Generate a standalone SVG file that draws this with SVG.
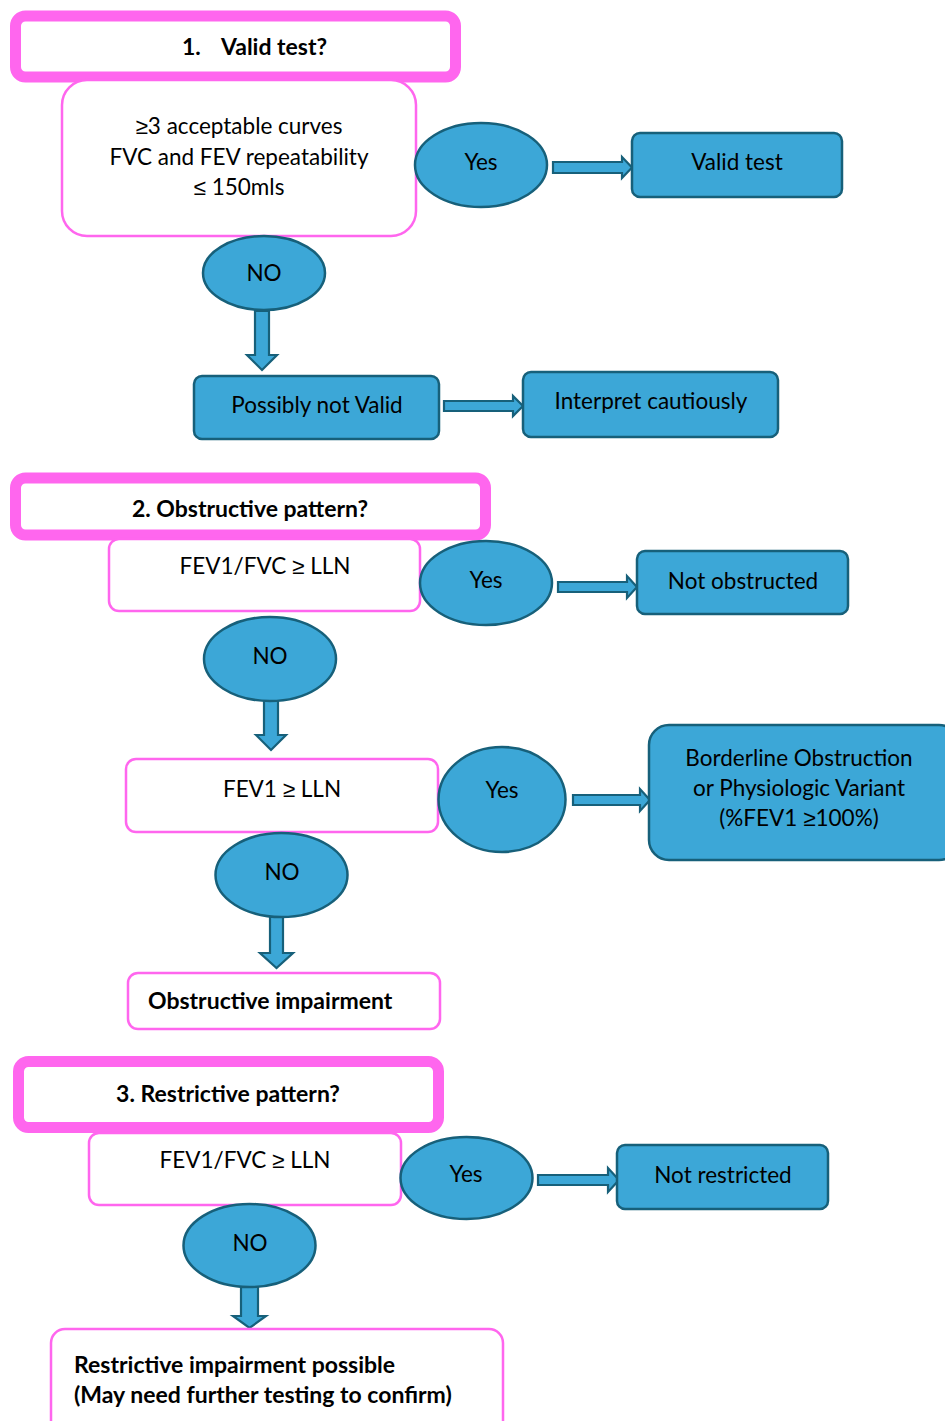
<svg xmlns="http://www.w3.org/2000/svg" width="945" height="1421" viewBox="0 0 945 1421">
<style>
.hdr{fill:#fff;stroke:#ff66ee;stroke-width:11}
.pbox{fill:#fff;stroke:#ff66ee;stroke-width:2.5}
.bbox{fill:#3ca7d7;stroke:#17607a;stroke-width:2.5}
.ell{fill:#3ca7d7;stroke:#17607a;stroke-width:2.5}
.arr{fill:#3ca7d7;stroke:#17607a;stroke-width:2.2;stroke-linejoin:miter}
text{font-family:Lato,"Liberation Sans",sans-serif;font-size:22.5px;fill:#000}
.c{text-anchor:middle}
.b{font-weight:bold;font-size:23px}
.sym{font-family:"Liberation Sans",sans-serif}
</style>
<rect width="945" height="1421" fill="#fff"/>
<g id="connectors">
<polygon class="arr" points="553,162 622,162 622,157 632,167.5 622,178 622,173 553,173"/>
<polygon class="arr" points="255,311 269,311 269,355 277,355 262,370 247,355 255,355"/>
<polygon class="arr" points="444,401 513,401 513,396 523,406 513,416 513,411 444,411"/>
<polygon class="arr" points="558,582 627,582 627,576 637,587 627,598 627,592 558,592"/>
<polygon class="arr" points="264,701 278,701 278,735 286,735 271,750 256,735 264,735"/>
<polygon class="arr" points="573,795 640,795 640,789 650,800 640,811 640,805 573,805"/>
<polygon class="arr" points="270,917 283,917 283,953 293,953 276.5,968 260,953 270,953"/>
<polygon class="arr" points="538,1175 608,1175 608,1168 619,1180 608,1192 608,1185 538,1185"/>
<polygon class="arr" points="241,1287 258,1287 258,1316 266,1316 249.5,1328 233,1316 241,1316"/>
</g>
<g id="h1"><rect class="hdr" x="15.5" y="16" width="440" height="61" rx="10"/>
<text class="b" x="182" y="55">1.<tspan x="221">Valid test?</tspan></text></g>
<g id="q1"><rect class="pbox" x="62" y="80" width="354" height="156" rx="25"/>
<text class="c" x="239" y="134"><tspan class="sym">≥</tspan>3 acceptable curves</text>
<text class="c" x="239" y="165">FVC and FEV repeatability</text>
<text class="c" x="239" y="195"><tspan class="sym">≤</tspan> 150mls</text></g>
<g id="yes1"><ellipse class="ell" cx="481" cy="165" rx="66" ry="42"/><text class="c" x="481" y="170">Yes</text></g>
<g id="valid"><rect class="bbox" x="632" y="133" width="210" height="64" rx="8"/><text class="c" x="737" y="170">Valid test</text></g>
<g id="no1"><ellipse class="ell" cx="264" cy="273" rx="61" ry="37"/><text class="c" x="264" y="281">NO</text></g>
<g id="possibly"><rect class="bbox" x="194" y="376" width="245" height="63" rx="8"/><text class="c" x="317" y="413">Possibly not Valid</text></g>
<g id="interpret"><rect class="bbox" x="523" y="372" width="255" height="65" rx="8"/><text class="c" x="651" y="409">Interpret cautiously</text></g>

<g id="h2"><rect class="hdr" x="15.5" y="478" width="470" height="57" rx="10"/>
<text class="c b" x="250" y="517">2. Obstructive pattern?</text></g>
<g id="q2"><rect class="pbox" x="109" y="539" width="311" height="72" rx="10"/><text class="c" x="265" y="574">FEV1/FVC <tspan class="sym">≥</tspan> LLN</text></g>
<g id="yes2"><ellipse class="ell" cx="486" cy="583" rx="66" ry="42"/><text class="c" x="486" y="588">Yes</text></g>
<g id="notobs"><rect class="bbox" x="637" y="551" width="211" height="63" rx="8"/><text class="c" x="743" y="589">Not obstructed</text></g>
<g id="no2"><ellipse class="ell" cx="270" cy="659" rx="66" ry="42"/><text class="c" x="270" y="664">NO</text></g>
<g id="q3"><rect class="pbox" x="126" y="759" width="312" height="73" rx="10"/><text class="c" x="282" y="797">FEV1 <tspan class="sym">≥</tspan> LLN</text></g>
<g id="yes3"><ellipse class="ell" cx="502" cy="799.5" rx="63.5" ry="52.5"/><text class="c" x="502" y="798">Yes</text></g>
<g id="border"><rect class="bbox" x="649" y="725" width="310" height="135" rx="20"/>
<text class="c" x="799" y="766">Borderline Obstruction</text>
<text class="c" x="799" y="796">or Physiologic Variant</text>
<text class="c" x="799" y="826">(%FEV1 <tspan class="sym">≥</tspan>100%)</text></g>
<g id="no3"><ellipse class="ell" cx="281.5" cy="875" rx="66" ry="42"/><text class="c" x="282" y="880">NO</text></g>
<g id="obsimp"><rect class="pbox" x="128" y="973" width="312" height="56" rx="10"/><text class="b" x="148" y="1009">Obstructive impairment</text></g>

<g id="h3"><rect class="hdr" x="18.5" y="1061.5" width="420" height="66" rx="10"/>
<text class="c b" x="228" y="1102">3. Restrictive pattern?</text></g>
<g id="q4"><rect class="pbox" x="89" y="1133" width="312" height="72" rx="10"/><text class="c" x="245" y="1168">FEV1/FVC <tspan class="sym">≥</tspan> LLN</text></g>
<g id="yes4"><ellipse class="ell" cx="466.5" cy="1178" rx="66" ry="41"/><text class="c" x="466" y="1182">Yes</text></g>
<g id="notres"><rect class="bbox" x="617" y="1145" width="211" height="64" rx="8"/><text class="c" x="723" y="1183">Not restricted</text></g>
<g id="no4"><ellipse class="ell" cx="249.5" cy="1245.5" rx="66" ry="41.5"/><text class="c" x="250" y="1251">NO</text></g>
<g id="resimp"><rect class="pbox" x="51" y="1329" width="452" height="110" rx="14"/>
<text class="b" x="74" y="1373">Restrictive impairment possible</text>
<text class="b" x="74" y="1403">(May need further testing to confirm)</text></g>
</svg>
